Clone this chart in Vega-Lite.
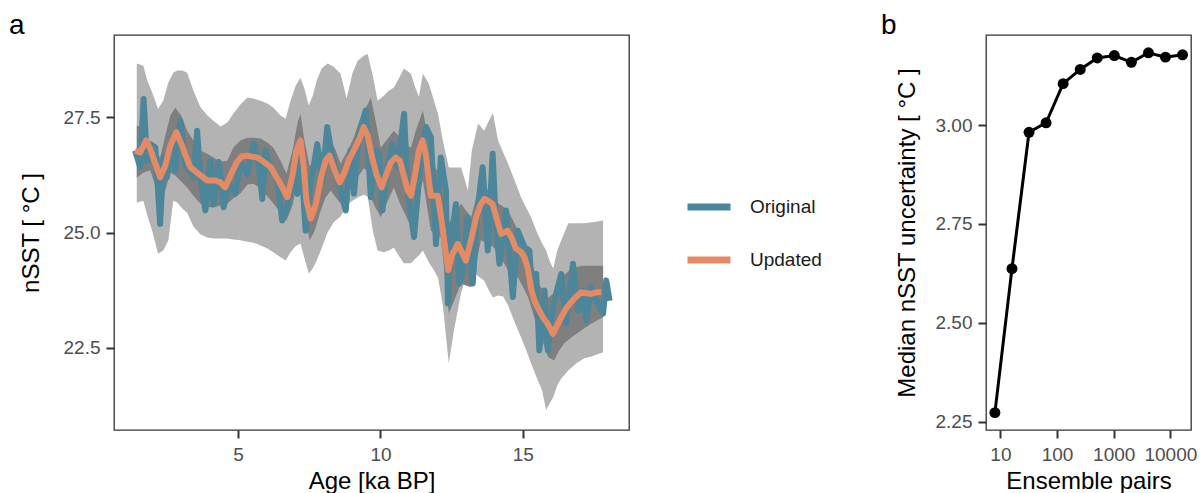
{
  "$schema": "https://vega.github.io/schema/vega-lite/v6.json",
  "padding": {"left": 8, "top": 11, "right": 0, "bottom": 0},
  "spacing": 57,
  "background": "white",
  "datasets": {
    "outer": [
      {"age":1.44,"lo":25.65,"hi":28.67},{"age":1.67,"lo":25.69,"hi":28.62},{"age":1.81,"lo":25.37,"hi":28.30},{"age":1.98,"lo":25.04,"hi":28.04},{"age":2.19,"lo":24.54,"hi":27.69},{"age":2.37,"lo":24.61,"hi":27.86},{"age":2.55,"lo":24.83,"hi":28.26},{"age":2.72,"lo":25.69,"hi":28.47},{"age":2.86,"lo":25.65,"hi":28.52},{"age":3.04,"lo":25.52,"hi":28.52},{"age":3.21,"lo":25.43,"hi":28.47},{"age":3.43,"lo":25.13,"hi":28.08},{"age":3.67,"lo":24.96,"hi":27.73},{"age":3.92,"lo":24.89,"hi":27.54},{"age":4.13,"lo":24.87,"hi":27.43},{"age":4.38,"lo":24.87,"hi":27.30},{"age":4.62,"lo":24.87,"hi":27.39},{"age":4.83,"lo":24.85,"hi":27.58},{"age":5.08,"lo":24.83,"hi":27.78},{"age":5.33,"lo":24.80,"hi":27.93},{"age":5.54,"lo":24.78,"hi":27.91},{"age":5.79,"lo":24.72,"hi":27.86},{"age":6.03,"lo":24.65,"hi":27.80},{"age":6.24,"lo":24.57,"hi":27.71},{"age":6.49,"lo":24.46,"hi":27.54},{"age":6.67,"lo":24.39,"hi":27.47},{"age":6.84,"lo":24.57,"hi":27.86},{"age":7.02,"lo":24.70,"hi":28.19},{"age":7.19,"lo":24.76,"hi":28.36},{"age":7.33,"lo":24.44,"hi":28.12},{"age":7.48,"lo":24.11,"hi":27.76},{"age":7.62,"lo":24.22,"hi":27.97},{"age":7.76,"lo":24.39,"hi":28.30},{"age":7.93,"lo":24.65,"hi":28.56},{"age":8.14,"lo":25.00,"hi":28.67},{"age":8.36,"lo":25.22,"hi":28.60},{"age":8.60,"lo":25.35,"hi":28.45},{"age":8.81,"lo":25.59,"hi":27.91},{"age":9.02,"lo":25.69,"hi":28.47},{"age":9.20,"lo":25.76,"hi":28.73},{"age":9.41,"lo":25.82,"hi":28.84},{"age":9.55,"lo":25.78,"hi":28.88},{"age":9.73,"lo":25.04,"hi":28.41},{"age":9.90,"lo":24.61,"hi":27.86},{"age":10.12,"lo":24.57,"hi":27.97},{"age":10.29,"lo":24.61,"hi":28.08},{"age":10.47,"lo":24.67,"hi":28.15},{"age":10.64,"lo":24.50,"hi":28.34},{"age":10.82,"lo":24.33,"hi":28.56},{"age":11.07,"lo":24.33,"hi":28.45},{"age":11.24,"lo":24.44,"hi":28.12},{"age":11.35,"lo":24.50,"hi":27.95},{"age":11.49,"lo":24.61,"hi":28.45},{"age":11.70,"lo":24.35,"hi":28.23},{"age":11.88,"lo":24.18,"hi":27.86},{"age":12.02,"lo":24.02,"hi":27.58},{"age":12.19,"lo":23.42,"hi":27.00},{"age":12.40,"lo":22.16,"hi":26.41},{"age":12.58,"lo":22.87,"hi":26.41},{"age":12.83,"lo":23.68,"hi":26.41},{"age":12.97,"lo":23.96,"hi":26.13},{"age":13.07,"lo":24.33,"hi":25.91},{"age":13.21,"lo":24.22,"hi":26.78},{"age":13.43,"lo":24.05,"hi":27.37},{"age":13.64,"lo":23.96,"hi":27.21},{"age":13.81,"lo":23.74,"hi":27.43},{"age":13.95,"lo":23.59,"hi":27.60},{"age":14.13,"lo":23.63,"hi":27.00},{"age":14.31,"lo":23.61,"hi":26.74},{"age":14.48,"lo":23.42,"hi":26.50},{"age":14.69,"lo":23.09,"hi":26.17},{"age":14.94,"lo":22.72,"hi":25.76},{"age":15.12,"lo":22.44,"hi":25.54},{"age":15.29,"lo":22.16,"hi":25.33},{"age":15.50,"lo":21.83,"hi":25.00},{"age":15.68,"lo":21.57,"hi":24.76},{"age":15.82,"lo":21.14,"hi":24.61},{"age":15.96,"lo":21.31,"hi":24.35},{"age":16.07,"lo":21.42,"hi":24.22},{"age":16.21,"lo":21.68,"hi":24.61},{"age":16.35,"lo":21.83,"hi":24.83},{"age":16.60,"lo":22.00,"hi":25.20},{"age":16.88,"lo":22.16,"hi":25.20},{"age":17.16,"lo":22.27,"hi":25.20},{"age":17.44,"lo":22.31,"hi":25.22},{"age":17.82,"lo":22.40,"hi":25.26}
    ],
    "inner": [
      {"age":1.44,"lo":26.19,"hi":27.32},{"age":1.67,"lo":26.30,"hi":27.28},{"age":1.91,"lo":26.35,"hi":26.89},{"age":2.09,"lo":26.02,"hi":26.78},{"age":2.26,"lo":25.63,"hi":26.63},{"age":2.44,"lo":25.91,"hi":27.10},{"age":2.62,"lo":26.30,"hi":27.54},{"age":2.79,"lo":26.24,"hi":27.71},{"age":3.00,"lo":26.11,"hi":27.54},{"age":3.21,"lo":25.98,"hi":27.21},{"age":3.43,"lo":25.80,"hi":27.00},{"age":3.67,"lo":25.63,"hi":26.78},{"age":3.92,"lo":25.56,"hi":26.71},{"age":4.13,"lo":25.54,"hi":26.63},{"age":4.38,"lo":25.59,"hi":26.54},{"age":4.62,"lo":25.63,"hi":26.56},{"age":4.83,"lo":25.74,"hi":26.84},{"age":5.08,"lo":25.85,"hi":27.00},{"age":5.33,"lo":26.04,"hi":27.06},{"age":5.54,"lo":26.06,"hi":27.06},{"age":5.79,"lo":25.95,"hi":27.04},{"age":6.03,"lo":25.78,"hi":26.95},{"age":6.24,"lo":25.63,"hi":26.84},{"age":6.49,"lo":25.43,"hi":26.56},{"age":6.70,"lo":25.26,"hi":26.28},{"age":6.91,"lo":25.59,"hi":26.78},{"age":7.09,"lo":26.13,"hi":27.39},{"age":7.19,"lo":26.35,"hi":27.58},{"age":7.33,"lo":25.48,"hi":27.00},{"age":7.51,"lo":24.83,"hi":26.45},{"age":7.69,"lo":25.04,"hi":26.50},{"age":7.90,"lo":25.48,"hi":26.71},{"age":8.07,"lo":25.76,"hi":26.89},{"age":8.25,"lo":25.91,"hi":27.00},{"age":8.43,"lo":25.76,"hi":26.78},{"age":8.60,"lo":25.63,"hi":26.50},{"age":8.85,"lo":25.87,"hi":26.78},{"age":9.06,"lo":26.06,"hi":27.06},{"age":9.24,"lo":26.24,"hi":27.39},{"age":9.41,"lo":26.39,"hi":27.65},{"age":9.55,"lo":26.35,"hi":27.78},{"age":9.66,"lo":25.76,"hi":27.93},{"age":9.83,"lo":25.54,"hi":27.43},{"age":10.01,"lo":25.33,"hi":26.84},{"age":10.26,"lo":25.69,"hi":27.04},{"age":10.47,"lo":25.98,"hi":27.21},{"age":10.71,"lo":25.59,"hi":27.04},{"age":10.89,"lo":25.37,"hi":26.93},{"age":11.07,"lo":25.11,"hi":26.84},{"age":11.24,"lo":25.59,"hi":27.21},{"age":11.49,"lo":26.13,"hi":27.65},{"age":11.63,"lo":25.59,"hi":27.17},{"age":11.77,"lo":25.04,"hi":26.63},{"age":11.95,"lo":24.98,"hi":26.39},{"age":12.12,"lo":24.89,"hi":26.13},{"age":12.26,"lo":24.07,"hi":25.69},{"age":12.40,"lo":23.24,"hi":25.20},{"age":12.62,"lo":23.57,"hi":25.41},{"age":12.83,"lo":23.89,"hi":25.63},{"age":13.00,"lo":23.85,"hi":25.48},{"age":13.18,"lo":23.81,"hi":25.33},{"age":13.36,"lo":24.33,"hi":25.74},{"age":13.53,"lo":24.83,"hi":26.13},{"age":13.78,"lo":24.76,"hi":25.91},{"age":13.99,"lo":24.67,"hi":25.69},{"age":14.24,"lo":24.44,"hi":25.59},{"age":14.48,"lo":24.18,"hi":25.48},{"age":14.66,"lo":24.11,"hi":25.26},{"age":14.83,"lo":24.02,"hi":25.04},{"age":15.01,"lo":23.81,"hi":24.87},{"age":15.19,"lo":23.59,"hi":24.67},{"age":15.36,"lo":23.24,"hi":24.28},{"age":15.54,"lo":22.87,"hi":23.89},{"age":15.72,"lo":22.59,"hi":23.74},{"age":15.89,"lo":22.29,"hi":23.59},{"age":16.10,"lo":22.22,"hi":23.68},{"age":16.24,"lo":22.40,"hi":23.81},{"age":16.45,"lo":22.59,"hi":24.07},{"age":16.70,"lo":22.72,"hi":24.22},{"age":17.05,"lo":22.87,"hi":24.28},{"age":17.40,"lo":23.02,"hi":24.28},{"age":17.82,"lo":23.16,"hi":24.28}
    ],
    "lines": [
      {"age":1.38,"nsst":26.78,"series":"Original"},{"age":1.56,"nsst":26.42,"series":"Original"},{"age":1.68,"nsst":27.90,"series":"Original"},{"age":1.80,"nsst":26.56,"series":"Original"},{"age":1.91,"nsst":26.92,"series":"Original"},{"age":2.09,"nsst":26.85,"series":"Original"},{"age":2.26,"nsst":25.19,"series":"Original"},{"age":2.38,"nsst":26.63,"series":"Original"},{"age":2.50,"nsst":26.20,"series":"Original"},{"age":2.68,"nsst":27.00,"series":"Original"},{"age":2.79,"nsst":26.35,"series":"Original"},{"age":2.97,"nsst":27.43,"series":"Original"},{"age":3.14,"nsst":26.49,"series":"Original"},{"age":3.44,"nsst":26.20,"series":"Original"},{"age":3.56,"nsst":27.21,"series":"Original"},{"age":3.67,"nsst":26.20,"series":"Original"},{"age":3.85,"nsst":25.48,"series":"Original"},{"age":4.02,"nsst":26.56,"series":"Original"},{"age":4.14,"nsst":25.62,"series":"Original"},{"age":4.32,"nsst":26.53,"series":"Original"},{"age":4.49,"nsst":25.55,"series":"Original"},{"age":4.67,"nsst":26.06,"series":"Original"},{"age":4.90,"nsst":25.84,"series":"Original"},{"age":5.08,"nsst":26.56,"series":"Original"},{"age":5.32,"nsst":26.27,"series":"Original"},{"age":5.55,"nsst":26.93,"series":"Original"},{"age":5.73,"nsst":26.42,"series":"Original"},{"age":5.85,"nsst":25.73,"series":"Original"},{"age":5.96,"nsst":26.78,"series":"Original"},{"age":6.14,"nsst":26.35,"series":"Original"},{"age":6.37,"nsst":26.20,"series":"Original"},{"age":6.55,"nsst":25.26,"series":"Original"},{"age":6.73,"nsst":25.55,"series":"Original"},{"age":6.90,"nsst":26.13,"series":"Original"},{"age":7.08,"nsst":25.84,"series":"Original"},{"age":7.17,"nsst":27.00,"series":"Original"},{"age":7.37,"nsst":25.04,"series":"Original"},{"age":7.55,"nsst":26.06,"series":"Original"},{"age":7.78,"nsst":26.92,"series":"Original"},{"age":7.96,"nsst":26.13,"series":"Original"},{"age":8.13,"nsst":27.29,"series":"Original"},{"age":8.31,"nsst":26.63,"series":"Original"},{"age":8.43,"nsst":26.35,"series":"Original"},{"age":8.60,"nsst":25.91,"series":"Original"},{"age":8.78,"nsst":25.48,"series":"Original"},{"age":8.95,"nsst":26.78,"series":"Original"},{"age":9.07,"nsst":25.84,"series":"Original"},{"age":9.25,"nsst":27.14,"series":"Original"},{"age":9.48,"nsst":27.65,"series":"Original"},{"age":9.66,"nsst":25.77,"series":"Original"},{"age":9.83,"nsst":26.78,"series":"Original"},{"age":9.95,"nsst":26.71,"series":"Original"},{"age":10.07,"nsst":25.48,"series":"Original"},{"age":10.25,"nsst":26.42,"series":"Original"},{"age":10.42,"nsst":26.92,"series":"Original"},{"age":10.60,"nsst":26.42,"series":"Original"},{"age":10.83,"nsst":27.58,"series":"Original"},{"age":10.95,"nsst":25.91,"series":"Original"},{"age":11.18,"nsst":24.90,"series":"Original"},{"age":11.36,"nsst":26.20,"series":"Original"},{"age":11.60,"nsst":27.29,"series":"Original"},{"age":11.77,"nsst":27.07,"series":"Original"},{"age":11.95,"nsst":24.75,"series":"Original"},{"age":12.12,"nsst":26.63,"series":"Original"},{"age":12.30,"nsst":25.91,"series":"Original"},{"age":12.37,"nsst":23.46,"series":"Original"},{"age":12.48,"nsst":24.83,"series":"Original"},{"age":12.65,"nsst":25.62,"series":"Original"},{"age":12.77,"nsst":23.89,"series":"Original"},{"age":12.89,"nsst":24.18,"series":"Original"},{"age":13.06,"nsst":25.33,"series":"Original"},{"age":13.24,"nsst":23.89,"series":"Original"},{"age":13.42,"nsst":25.55,"series":"Original"},{"age":13.59,"nsst":26.42,"series":"Original"},{"age":13.77,"nsst":24.61,"series":"Original"},{"age":13.94,"nsst":26.71,"series":"Original"},{"age":14.06,"nsst":25.12,"series":"Original"},{"age":14.18,"nsst":24.32,"series":"Original"},{"age":14.41,"nsst":25.48,"series":"Original"},{"age":14.65,"nsst":23.60,"series":"Original"},{"age":14.82,"nsst":25.04,"series":"Original"},{"age":15.06,"nsst":24.68,"series":"Original"},{"age":15.23,"nsst":24.61,"series":"Original"},{"age":15.29,"nsst":24.03,"series":"Original"},{"age":15.47,"nsst":24.10,"series":"Original"},{"age":15.58,"nsst":22.44,"series":"Original"},{"age":15.76,"nsst":23.74,"series":"Original"},{"age":15.88,"nsst":22.44,"series":"Original"},{"age":16.06,"nsst":23.38,"series":"Original"},{"age":16.17,"nsst":23.67,"series":"Original"},{"age":16.35,"nsst":24.10,"series":"Original"},{"age":16.52,"nsst":23.02,"series":"Original"},{"age":16.76,"nsst":24.32,"series":"Original"},{"age":16.94,"nsst":23.31,"series":"Original"},{"age":17.11,"nsst":23.74,"series":"Original"},{"age":17.23,"nsst":23.09,"series":"Original"},{"age":17.40,"nsst":23.81,"series":"Original"},{"age":17.58,"nsst":23.52,"series":"Original"},{"age":17.82,"nsst":23.24,"series":"Original"},{"age":17.93,"nsst":23.96,"series":"Original"},{"age":18.05,"nsst":23.52,"series":"Original"},
      {"age":1.38,"nsst":26.78,"series":"Updated"},{"age":1.56,"nsst":26.74,"series":"Updated"},{"age":1.77,"nsst":27.00,"series":"Updated"},{"age":1.91,"nsst":26.82,"series":"Updated"},{"age":2.09,"nsst":26.50,"series":"Updated"},{"age":2.26,"nsst":26.20,"series":"Updated"},{"age":2.44,"nsst":26.45,"series":"Updated"},{"age":2.62,"nsst":26.89,"series":"Updated"},{"age":2.83,"nsst":27.18,"series":"Updated"},{"age":3.00,"nsst":26.93,"series":"Updated"},{"age":3.18,"nsst":26.63,"series":"Updated"},{"age":3.32,"nsst":26.42,"series":"Updated"},{"age":3.60,"nsst":26.28,"series":"Updated"},{"age":3.91,"nsst":26.13,"series":"Updated"},{"age":4.20,"nsst":26.13,"series":"Updated"},{"age":4.38,"nsst":26.09,"series":"Updated"},{"age":4.55,"nsst":25.98,"series":"Updated"},{"age":4.73,"nsst":26.24,"series":"Updated"},{"age":4.96,"nsst":26.53,"series":"Updated"},{"age":5.12,"nsst":26.65,"series":"Updated"},{"age":5.32,"nsst":26.67,"series":"Updated"},{"age":5.47,"nsst":26.65,"series":"Updated"},{"age":5.67,"nsst":26.63,"series":"Updated"},{"age":5.89,"nsst":26.54,"series":"Updated"},{"age":6.14,"nsst":26.42,"series":"Updated"},{"age":6.42,"nsst":26.13,"series":"Updated"},{"age":6.73,"nsst":25.77,"series":"Updated"},{"age":6.91,"nsst":26.24,"series":"Updated"},{"age":7.05,"nsst":26.78,"series":"Updated"},{"age":7.19,"nsst":27.00,"series":"Updated"},{"age":7.30,"nsst":26.45,"series":"Updated"},{"age":7.40,"nsst":25.69,"series":"Updated"},{"age":7.55,"nsst":25.30,"series":"Updated"},{"age":7.72,"nsst":25.59,"series":"Updated"},{"age":7.93,"nsst":26.24,"series":"Updated"},{"age":8.07,"nsst":26.56,"series":"Updated"},{"age":8.21,"nsst":26.67,"series":"Updated"},{"age":8.39,"nsst":26.35,"series":"Updated"},{"age":8.57,"nsst":26.09,"series":"Updated"},{"age":8.74,"nsst":26.30,"series":"Updated"},{"age":8.88,"nsst":26.56,"series":"Updated"},{"age":9.06,"nsst":26.78,"series":"Updated"},{"age":9.24,"nsst":27.00,"series":"Updated"},{"age":9.41,"nsst":27.29,"series":"Updated"},{"age":9.55,"nsst":27.10,"series":"Updated"},{"age":9.69,"nsst":26.67,"series":"Updated"},{"age":9.87,"nsst":26.24,"series":"Updated"},{"age":10.04,"nsst":25.98,"series":"Updated"},{"age":10.19,"nsst":26.24,"series":"Updated"},{"age":10.36,"nsst":26.52,"series":"Updated"},{"age":10.54,"nsst":26.63,"series":"Updated"},{"age":10.68,"nsst":26.56,"series":"Updated"},{"age":10.82,"nsst":26.24,"series":"Updated"},{"age":10.96,"nsst":25.91,"series":"Updated"},{"age":11.07,"nsst":25.80,"series":"Updated"},{"age":11.21,"nsst":26.24,"series":"Updated"},{"age":11.35,"nsst":26.78,"series":"Updated"},{"age":11.48,"nsst":27.00,"series":"Updated"},{"age":11.60,"nsst":26.67,"series":"Updated"},{"age":11.70,"nsst":26.13,"series":"Updated"},{"age":11.77,"nsst":25.80,"series":"Updated"},{"age":12.01,"nsst":25.80,"series":"Updated"},{"age":12.12,"nsst":25.37,"series":"Updated"},{"age":12.26,"nsst":24.72,"series":"Updated"},{"age":12.38,"nsst":24.18,"series":"Updated"},{"age":12.51,"nsst":24.50,"series":"Updated"},{"age":12.71,"nsst":24.75,"series":"Updated"},{"age":12.83,"nsst":24.61,"series":"Updated"},{"age":13.00,"nsst":24.39,"series":"Updated"},{"age":13.18,"nsst":24.83,"series":"Updated"},{"age":13.36,"nsst":25.33,"series":"Updated"},{"age":13.50,"nsst":25.59,"series":"Updated"},{"age":13.65,"nsst":25.73,"series":"Updated"},{"age":13.78,"nsst":25.69,"series":"Updated"},{"age":13.94,"nsst":25.62,"series":"Updated"},{"age":14.10,"nsst":25.26,"series":"Updated"},{"age":14.24,"nsst":24.97,"series":"Updated"},{"age":14.47,"nsst":25.04,"series":"Updated"},{"age":14.62,"nsst":24.87,"series":"Updated"},{"age":14.76,"nsst":24.65,"series":"Updated"},{"age":14.94,"nsst":24.57,"series":"Updated"},{"age":15.06,"nsst":24.46,"series":"Updated"},{"age":15.19,"nsst":24.18,"series":"Updated"},{"age":15.29,"nsst":23.78,"series":"Updated"},{"age":15.41,"nsst":23.52,"series":"Updated"},{"age":15.54,"nsst":23.35,"series":"Updated"},{"age":15.70,"nsst":23.16,"series":"Updated"},{"age":15.86,"nsst":23.03,"series":"Updated"},{"age":15.96,"nsst":22.92,"series":"Updated"},{"age":16.06,"nsst":22.80,"series":"Updated"},{"age":16.17,"nsst":22.94,"series":"Updated"},{"age":16.35,"nsst":23.16,"series":"Updated"},{"age":16.52,"nsst":23.35,"series":"Updated"},{"age":16.70,"nsst":23.49,"series":"Updated"},{"age":16.88,"nsst":23.61,"series":"Updated"},{"age":17.05,"nsst":23.70,"series":"Updated"},{"age":17.23,"nsst":23.68,"series":"Updated"},{"age":17.40,"nsst":23.67,"series":"Updated"},{"age":17.58,"nsst":23.70,"series":"Updated"},{"age":17.76,"nsst":23.70,"series":"Updated"}
    ],
    "convergence": [
      {"pairs":8,"unc":2.273},{"pairs":16,"unc":2.637},{"pairs":32,"unc":2.982},{"pairs":64,"unc":3.006},{"pairs":128,"unc":3.105},{"pairs":256,"unc":3.141},{"pairs":512,"unc":3.170},{"pairs":1024,"unc":3.176},{"pairs":2048,"unc":3.159},{"pairs":4096,"unc":3.183},{"pairs":8192,"unc":3.172},{"pairs":16384,"unc":3.178}
    ]
  },
  "resolve": {"scale": {"color": "independent"}, "legend": {"color": "independent"}},
  "hconcat": [
    {
      "width": 515,
      "height": 395,
      "title": {"text": "a"},
      "layer": [
        {
          "data": {"name": "outer"},
          "mark": {"type": "area", "color": "#b3b3b3", "opacity": 1},
          "encoding": {
            "x": {"field": "age", "type": "quantitative", "scale": {"domain": [0.64, 18.73], "nice": false, "zero": false}, "axis": {"title": "Age [ka BP]", "values": [5, 10, 15], "labelPadding": 7, "titlePadding": 5}},
            "y": {"field": "hi", "type": "quantitative", "scale": {"domain": [20.71, 29.29], "nice": false, "zero": false}, "axis": {"title": "nSST [ °C ]", "values": [22.5, 25, 27.5], "format": ".1f", "labelPadding": 6, "titlePadding": 20}},
            "y2": {"field": "lo"}
          }
        },
        {
          "data": {"name": "inner"},
          "mark": {"type": "area", "color": "#7f7f7f", "opacity": 1},
          "encoding": {
            "x": {"field": "age", "type": "quantitative"},
            "y": {"field": "hi", "type": "quantitative"},
            "y2": {"field": "lo"}
          }
        },
        {
          "data": {"name": "lines"},
          "mark": {"type": "line", "strokeWidth": 6, "strokeJoin": "round", "strokeCap": "butt"},
          "encoding": {
            "x": {"field": "age", "type": "quantitative"},
            "y": {"field": "nsst", "type": "quantitative"},
            "color": {
              "field": "series", "type": "nominal",
              "scale": {"domain": ["Original", "Updated"], "range": ["#4b869b", "#e48b66"]},
              "legend": {"title": null, "orient": "none", "legendX": 570, "legendY": 147, "symbolType": "stroke", "symbolSize": 1849, "symbolStrokeWidth": 7, "labelFontSize": 19, "labelColor": "#1a1a1a", "labelFont": "Liberation Sans", "rowPadding": 14, "labelOffset": 16, "padding": 0}
            }
          }
        }
      ]
    },
    {
      "width": 205,
      "height": 395,
      "title": {"text": "b"},
      "data": {"name": "convergence"},
      "mark": {"type": "line", "color": "black", "strokeWidth": 3, "point": {"filled": true, "size": 120, "color": "black", "opacity": 1}},
      "encoding": {
        "x": {"field": "pairs", "type": "quantitative", "scale": {"type": "log", "domain": [5.57, 23100], "nice": false}, "axis": {"title": "Ensemble pairs", "values": [10, 100, 1000, 10000], "format": "d", "labelPadding": 7, "titlePadding": 5}},
        "y": {"field": "unc", "type": "quantitative", "scale": {"domain": [2.229, 3.228], "nice": false, "zero": false}, "axis": {"title": "Median nSST uncertainty [ °C ]", "values": [2.25, 2.5, 2.75, 3.0], "format": ".2f", "labelPadding": 6, "titlePadding": 16}}
      }
    }
  ],
  "config": {
    "font": "Liberation Sans",
    "view": {"stroke": "#333333", "strokeWidth": 1.3},
    "axis": {"grid": false, "domain": false, "tickColor": "#333333", "tickWidth": 2, "tickSize": 8, "labelFontSize": 19, "labelColor": "#4d4d4d", "labelFont": "Liberation Sans", "titleFont": "Liberation Sans", "titleFontSize": 24, "titleFontWeight": "normal", "titleColor": "#000000"},
    "title": {"fontSize": 28, "fontWeight": "normal", "anchor": "start", "frame": "group", "dx": -105, "offset": -5, "baseline": "alphabetic", "color": "#000000", "font": "Liberation Sans"}
  }
}
